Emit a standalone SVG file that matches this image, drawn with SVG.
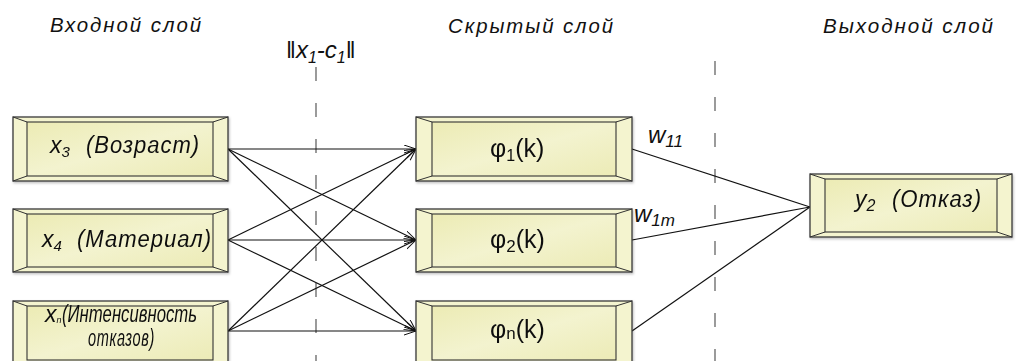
<svg xmlns="http://www.w3.org/2000/svg" width="1018" height="361" viewBox="0 0 1018 361">
<defs>
<linearGradient id="face" x1="0" y1="0" x2="1" y2="1">
<stop offset="0" stop-color="#ecebb4"/>
<stop offset="0.5" stop-color="#f3f3cf"/>
<stop offset="1" stop-color="#ecebb6"/>
</linearGradient>
<marker id="arr" markerUnits="userSpaceOnUse" markerWidth="14" markerHeight="10" refX="12" refY="4" orient="auto">
<path d="M0,0 L12,4 L0,8" fill="none" stroke="#111" stroke-width="1"/>
</marker>
<filter id="sh" x="-5%" y="-5%" width="115%" height="130%">
<feDropShadow dx="1" dy="1.5" stdDeviation="0.8" flood-color="#000" flood-opacity="0.25"/>
</filter>
</defs>
<style>
.outer{fill:#f4f4cf;stroke:#3a3a3a;stroke-width:1.3}
.inner{fill:url(#face);stroke:#333;stroke-width:1.1}
.bev{fill:none;stroke:#333;stroke-width:1}
.conn{fill:none;stroke:#111;stroke-width:1.2}
.dash{stroke:#666;stroke-width:1.3;stroke-dasharray:14 22}
.hdr{font-family:"Liberation Sans",Arial,sans-serif;font-style:italic;font-size:21px;fill:#111}
.lbl{font-family:"Liberation Sans",Arial,sans-serif;font-style:italic;font-size:23px;fill:#111}
.phi{font-family:"Liberation Sans",Arial,sans-serif;font-size:25px;fill:#111}
.math{font-family:"Liberation Sans",Arial,sans-serif;font-style:italic;font-size:24px;fill:#111}
</style>

<g id="headers">
<text class="hdr" x="50" y="32" textLength="153" lengthAdjust="spacingAndGlyphs" letter-spacing="2">Входной слой</text>
<text class="hdr" x="448" y="33" textLength="167" lengthAdjust="spacingAndGlyphs" letter-spacing="2">Скрытый слой</text>
<text class="hdr" x="823" y="33" textLength="172" lengthAdjust="spacingAndGlyphs" letter-spacing="2">Выходной слой</text>
<text class="math" x="286" y="58"><tspan font-style="normal">‖</tspan><tspan>x</tspan><tspan font-size="16" dy="5">1</tspan><tspan dy="-5">-c</tspan><tspan font-size="16" dy="5">1</tspan><tspan dy="-5" font-style="normal">‖</tspan></text>
</g>

<g id="dividers">
<line class="dash" x1="316" y1="61" x2="316" y2="361" stroke-dashoffset="-6"/>
<line class="dash" x1="715" y1="61" x2="715" y2="361"/>
</g>

<g id="connectors">
<line class="conn" x1="228" y1="149" x2="416" y2="149" marker-end="url(#arr)"/>
<line class="conn" x1="228" y1="149" x2="416" y2="240" marker-end="url(#arr)"/>
<line class="conn" x1="228" y1="149" x2="416" y2="331" marker-end="url(#arr)"/>
<line class="conn" x1="228" y1="240" x2="416" y2="149" marker-end="url(#arr)"/>
<line class="conn" x1="228" y1="240" x2="416" y2="240" marker-end="url(#arr)"/>
<line class="conn" x1="228" y1="240" x2="416" y2="331" marker-end="url(#arr)"/>
<line class="conn" x1="228" y1="331" x2="416" y2="149" marker-end="url(#arr)"/>
<line class="conn" x1="228" y1="331" x2="416" y2="240" marker-end="url(#arr)"/>
<line class="conn" x1="228" y1="331" x2="416" y2="331" marker-end="url(#arr)"/>
<line class="conn" x1="632" y1="149" x2="810" y2="207"/>
<line class="conn" x1="632" y1="240" x2="810" y2="207"/>
<line class="conn" x1="632" y1="331" x2="810" y2="207"/>
<text class="math" x="648" y="143" font-size="25">w<tspan font-size="17" dy="4">11</tspan></text>
<text class="math" x="634" y="222" font-size="25">w<tspan font-size="17" dy="4">1m</tspan></text>
</g>

<g id="in1" filter="url(#sh)">
<rect class="outer" x="13" y="117" width="215" height="64"/>
<rect class="inner" x="27" y="122" width="186" height="54"/>
<path class="bev" d="M13,117 L27,122 M228,117 L213,122 M13,181 L27,176 M228,181 L213,176"/>
<text class="lbl" x="50" y="153">x<tspan font-size="15" dy="4">3</tspan></text>
<text class="lbl" x="86" y="153" textLength="114" lengthAdjust="spacingAndGlyphs" letter-spacing="1">(Возраст)</text>
</g>

<g id="in2" filter="url(#sh)">
<rect class="outer" x="13" y="209" width="215" height="63"/>
<rect class="inner" x="27" y="214" width="186" height="53"/>
<path class="bev" d="M13,209 L27,214 M228,209 L213,214 M13,272 L27,267 M228,272 L213,267"/>
<text class="lbl" x="42" y="247">x<tspan font-size="15" dy="4">4</tspan></text>
<text class="lbl" x="77" y="247" textLength="135" lengthAdjust="spacingAndGlyphs" letter-spacing="1">(Материал)</text>
</g>

<g id="in3" filter="url(#sh)">
<rect class="outer" x="13" y="301" width="215" height="64"/>
<rect class="inner" x="27" y="306" width="186" height="54"/>
<path class="bev" d="M13,301 L27,306 M228,301 L213,306"/>
<text class="lbl" x="45" y="322" font-size="14">x<tspan font-size="9" dy="1">n</tspan></text>
<text class="lbl" x="62" y="322" font-size="14" textLength="135" lengthAdjust="spacingAndGlyphs">(Интенсивность</text>
<text class="lbl" x="88" y="346" font-size="14" textLength="67" lengthAdjust="spacingAndGlyphs" letter-spacing="1">отказов)</text>
</g>

<g id="h1" filter="url(#sh)">
<rect class="outer" x="416" y="117" width="216" height="64"/>
<rect class="inner" x="432" y="122" width="184" height="54"/>
<path class="bev" d="M416,117 L432,122 M632,117 L616,122 M416,181 L432,176 M632,181 L616,176"/>
<text class="phi" x="490" y="157" fill="#5a5a2c">φ<tspan font-size="16" dy="4">1</tspan><tspan dy="-4">(k)</tspan></text>
</g>

<g id="h2" filter="url(#sh)">
<rect class="outer" x="416" y="209" width="216" height="63"/>
<rect class="inner" x="432" y="214" width="184" height="53"/>
<path class="bev" d="M416,209 L432,214 M632,209 L616,214 M416,272 L432,267 M632,272 L616,267"/>
<text class="phi" x="490" y="248">φ<tspan font-size="17" dy="4">2</tspan><tspan dy="-4">(k)</tspan></text>
</g>

<g id="h3" filter="url(#sh)">
<rect class="outer" x="416" y="301" width="216" height="64"/>
<rect class="inner" x="432" y="306" width="184" height="54"/>
<path class="bev" d="M416,301 L432,306 M632,301 L616,306"/>
<text class="phi" x="490" y="338">φ<tspan font-size="17" dy="1">n</tspan><tspan dy="-1">(k)</tspan></text>
</g>

<g id="out" filter="url(#sh)">
<rect class="outer" x="810" y="174" width="202" height="63"/>
<rect class="inner" x="825" y="179" width="172" height="53"/>
<path class="bev" d="M810,174 L825,179 M1012,174 L997,179 M810,237 L825,232 M1012,237 L997,232"/>
<text class="lbl" x="855" y="207">y<tspan font-size="16" dy="4">2</tspan></text>
<text class="lbl" x="892" y="207" textLength="90" lengthAdjust="spacingAndGlyphs" letter-spacing="1">(Отказ)</text>
</g>
</svg>
